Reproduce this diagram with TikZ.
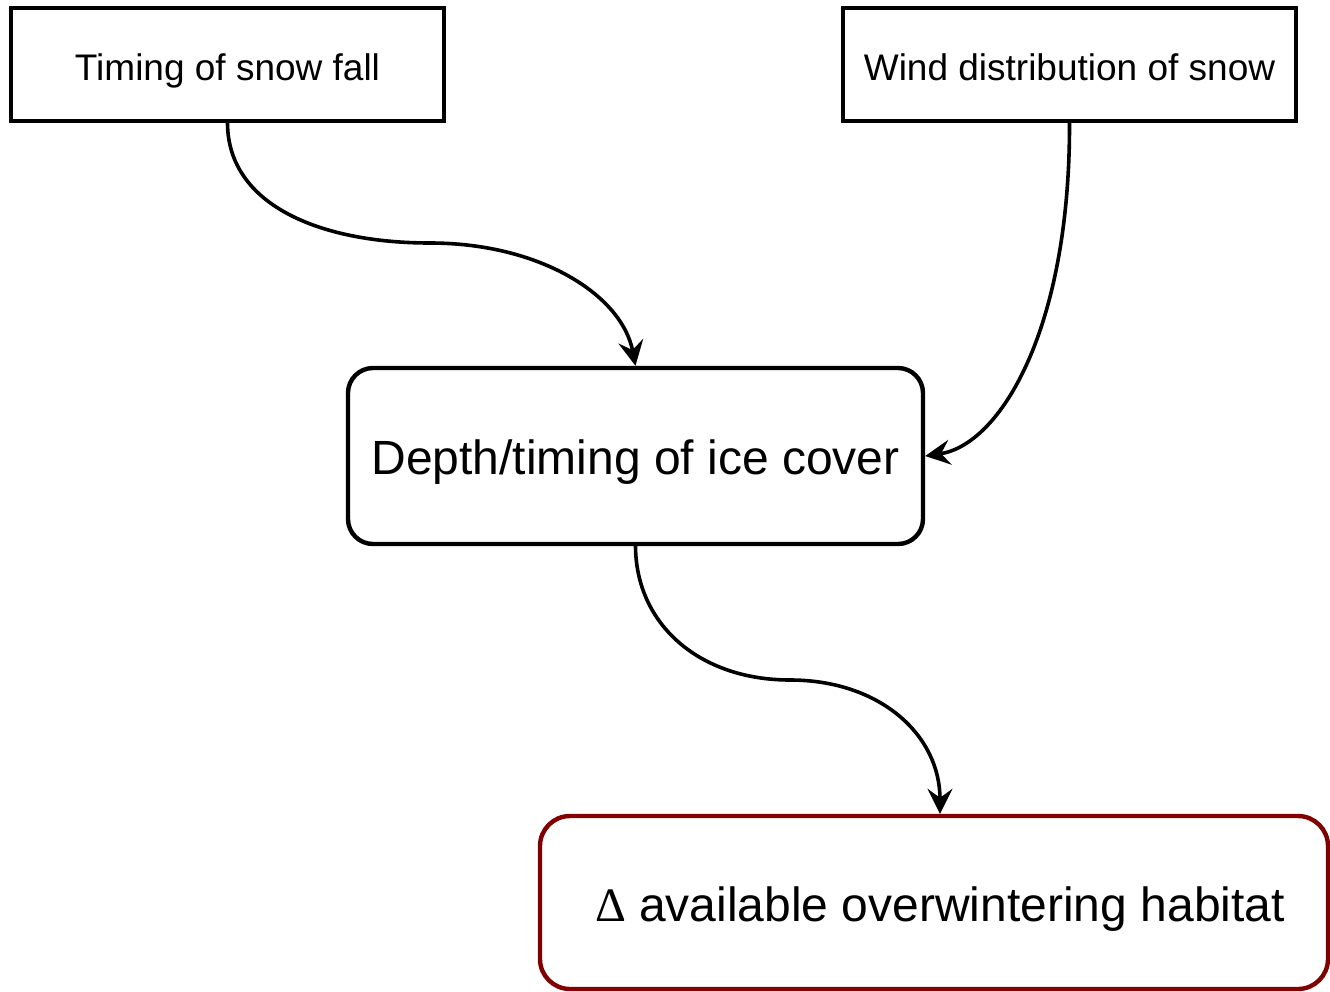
\documentclass[tikz,border=0pt]{standalone}
\usepackage{fontspec}
\setmainfont{Liberation Sans}
\newfontfamily\deltafont{Liberation Serif}
\usetikzlibrary{positioning,arrows.meta,calc,shapes}
\definecolor{habitatred}{HTML}{800000}
\tikzset{
    x=0.5pt,
    y=-0.5pt,
    driver/.style = {
        draw,
        shape=rectangle,
        minimum height=56.5pt,
        line width=2.2pt,
        text height=16pt,
        text depth=0.5pt,
        font=\fontsize{18.5}{22}\selectfont
    },
    state/.style = {
        draw,
        shape=rectangle,
        rounded corners=12.5pt,
        minimum height=88pt,
        minimum width=287.5pt,
        line width=2.2pt,
        text height=19pt,
        text depth=1pt,
        font=\fontsize{24}{28}\selectfont
    },
    outcome/.style = {
        draw=habitatred,
        shape=rectangle,
        rounded corners=15pt,
        minimum height=86.5pt,
        minimum width=394pt,
        line width=2.2pt,
        text height=20pt,
        text depth=1pt,
        font=\fontsize{24}{28}\selectfont
    },
    link/.style = {
        draw,
        ->,
        line width=1.8pt
    },
    >={Stealth[length=12.5pt,width=12.5pt,inset=4.5pt]},
}
\begin{document}
\begin{tikzpicture}
            \useasboundingbox (0,0) rectangle (1330,992);
            \node[driver, minimum width=216.5pt] (timing) at (227.5,64.5) {Timing of snow fall};
            \node[driver, minimum width=226.5pt] (wind) at (1069.5,64.5) {Wind distribution of snow};
            \node[state] (ice) at (635.5,456) {Depth/timing of ice cover};
            \node[outcome] (habitat) at (934,902.5) {\hspace{6pt}{\deltafont Δ} available overwintering habitat};

            \path[link] (timing.south) .. controls (228,205) and (320,243) .. (430,243)
                .. controls (540,243) and (622,295) .. (ice.north);
            \path[link] (wind.south) .. controls (1070,330) and (1000,445) .. (ice.east);
            \path[link] (ice.south) .. controls (636,625) and (700,680) .. (790,680)
                .. controls (880,680) and (940,735) .. ([xshift=3pt]habitat.north);
        \end{tikzpicture}
\end{document}
